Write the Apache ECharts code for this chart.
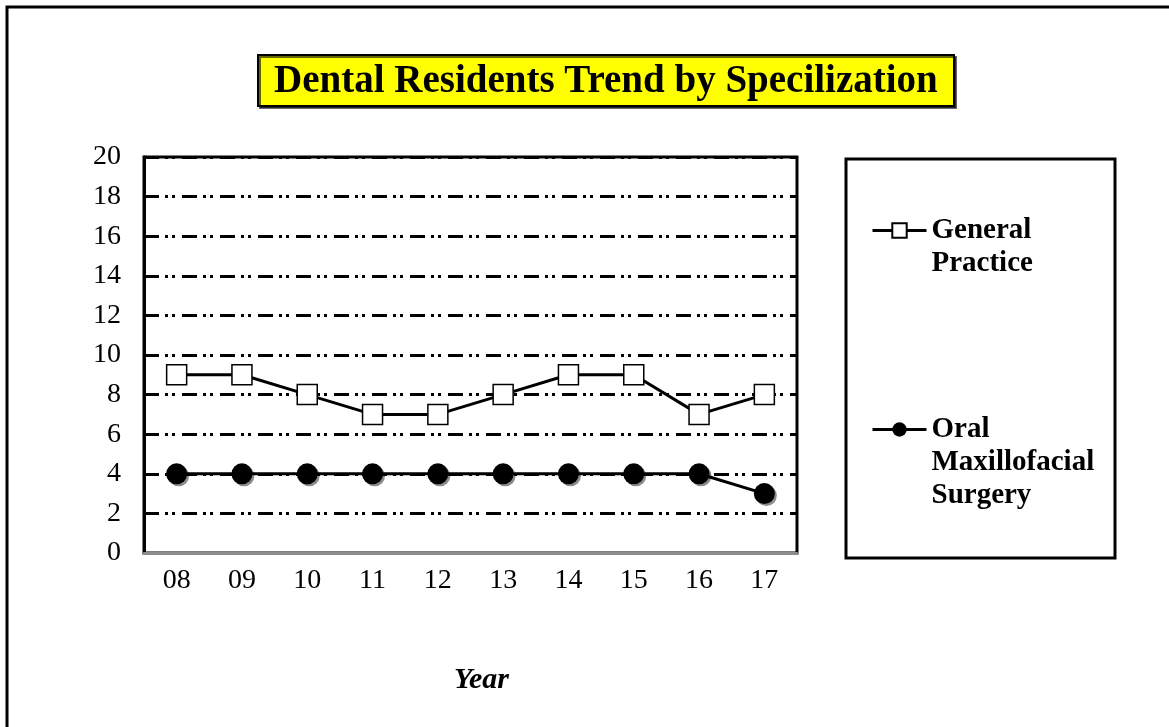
<!DOCTYPE html>
<html>
<head>
<meta charset="utf-8">
<title>Dental Residents Trend by Specilization</title>
<script src="https://cdn.jsdelivr.net/npm/echarts@6/dist/echarts.min.js"></script>
<style>
  html, body { margin: 0; padding: 0; background: #fff; }
  #chart { width: 1169px; height: 727px; }
</style>
</head>
<body>
<div id="chart"></div>
<script>
// 数据
const years = ["08", "09", "10", "11", "12", "13", "14", "15", "16", "17"];
const generalPractice = [9, 9, 8, 7, 7, 8, 9, 9, 7, 8];
const oralSurgery = [4, 4, 4, 4, 4, 4, 4, 4, 4, 3];
const seriesNames = ["General\nPractice", "Oral\nMaxillofacial\nSurgery"];

const serif = "'Liberation Serif', 'Times New Roman', serif";

const chart = echarts.init(document.getElementById("chart"));
chart.setOption({
  animation: false,
  backgroundColor: "#fff",
  title: {
    text: "Dental Residents Trend by Specilization",
    left: 258,
    top: 55,
    padding: [7, 16, 4, 16],
    backgroundColor: "#ffff00",
    borderColor: "#000",
    borderWidth: 2,
    shadowColor: "rgba(0,0,0,0.6)",
    shadowOffsetX: 2,
    shadowOffsetY: 2,
    textStyle: {
      fontFamily: serif,
      fontSize: 39,
      lineHeight: 40,
      fontWeight: "bold",
      color: "#000"
    }
  },
  // 外框 + 图例框
  graphic: [
    {
      type: "rect",
      shape: { x: 7, y: 7, width: 1250, height: 800 },
      style: { fill: null, stroke: "#000", lineWidth: 3 },
      silent: true
    },
    {
      type: "rect",
      shape: { x: 846, y: 159, width: 269, height: 399 },
      style: { fill: null, stroke: "#000", lineWidth: 3 },
      silent: true
    }
  ],
  legend: {
    orient: "vertical",
    left: 866,
    top: 176,
    itemWidth: 54,
    itemHeight: 18,
    itemGap: 67,
    selectedMode: false,
    // 第一行文字对齐图标: 前面补空行
    formatter: function (name) {
      const n = name.split("\n").length;
      return "\n".repeat(n - 1) + name;
    },
    lineStyle: { width: 3, color: "#000" },
    textStyle: {
      fontFamily: serif,
      fontSize: 29,
      fontWeight: "bold",
      color: "#000",
      lineHeight: 33
    },
    data: seriesNames
  },
  grid: {
    left: 144,
    top: 157,
    right: 372,
    bottom: 174,
    show: true,
    borderColor: "#000",
    borderWidth: 3,
    backgroundColor: "#fff"
  },
  xAxis: {
    type: "category",
    data: years,
    boundaryGap: true,
    name: "Year",
    nameLocation: "middle",
    nameGap: 112,
    nameTextStyle: {
      fontFamily: serif,
      fontSize: 30,
      fontWeight: "bold",
      fontStyle: "italic",
      color: "#000",
      padding: [0, 0, 0, 22]
    },
    axisLine: { lineStyle: { color: "#8c8c8c", width: 3 } },
    axisTick: { show: false },
    axisLabel: {
      fontFamily: serif,
      fontSize: 28,
      color: "#000",
      margin: 14
    }
  },
  yAxis: {
    type: "value",
    min: 0,
    max: 20,
    interval: 2,
    axisLine: { show: true, lineStyle: { color: "#000", width: 3 } },
    axisTick: { show: false },
    axisLabel: {
      fontFamily: serif,
      fontSize: 28,
      color: "#000",
      margin: 23
    },
    splitLine: {
      lineStyle: {
        color: "#000",
        width: 3,
        type: [15, 6, 3, 4, 3, 7] // 点划线
      }
    }
  },
  series: [
    {
      name: seriesNames[0],
      type: "line",
      data: generalPractice,
      symbol: "rect",
      symbolSize: 20,
      lineStyle: { color: "#000", width: 3 },
      itemStyle: { color: "#fff", borderColor: "#000", borderWidth: 1.5 },
      z: 3
    },
    {
      name: seriesNames[1],
      type: "line",
      data: oralSurgery,
      symbol: "circle",
      symbolSize: 21,
      lineStyle: { color: "#000", width: 3 },
      itemStyle: {
        color: "#000",
        shadowColor: "rgba(0,0,0,0.45)",
        shadowOffsetX: 2,
        shadowOffsetY: 2
      },
      z: 3
    }
  ]
});
</script>
</body>
</html>
